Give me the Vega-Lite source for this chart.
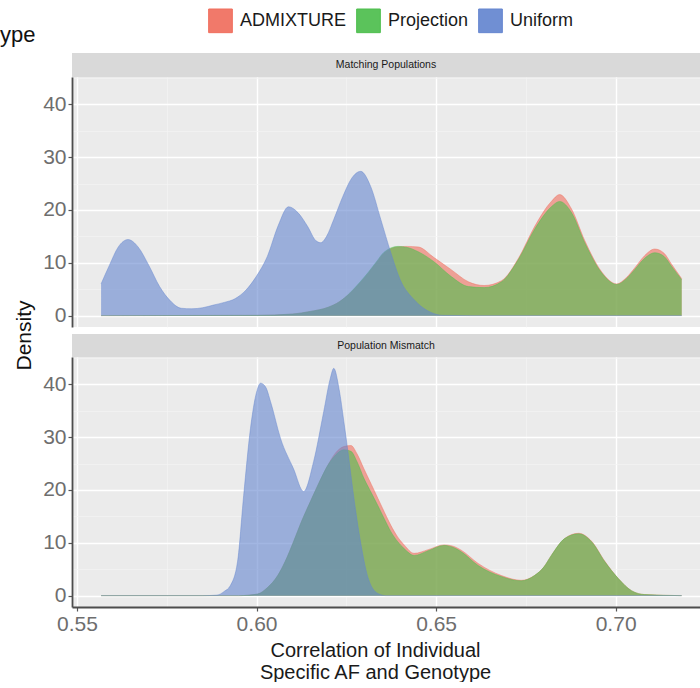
{
  "$schema": "https://vega.github.io/schema/vega-lite/v6.json",
  "padding": {"left": 0, "top": 8, "right": 0, "bottom": 0},
  "config": {
    "font": "Liberation Sans",
    "view": {"stroke": null}
  },
  "datasets": {
    "dens": [
      {"p":"Matching Populations","m":"ADMIXTURE","x":0.5567,"y":0},
      {"p":"Matching Populations","m":"ADMIXTURE","x":0.6,"y":0.05},
      {"p":"Matching Populations","m":"ADMIXTURE","x":0.61,"y":0.3},
      {"p":"Matching Populations","m":"ADMIXTURE","x":0.615,"y":0.8},
      {"p":"Matching Populations","m":"ADMIXTURE","x":0.62,"y":1.6},
      {"p":"Matching Populations","m":"ADMIXTURE","x":0.623,"y":2.6},
      {"p":"Matching Populations","m":"ADMIXTURE","x":0.626,"y":4.2},
      {"p":"Matching Populations","m":"ADMIXTURE","x":0.629,"y":6.3},
      {"p":"Matching Populations","m":"ADMIXTURE","x":0.631,"y":7.9},
      {"p":"Matching Populations","m":"ADMIXTURE","x":0.6335,"y":10.1},
      {"p":"Matching Populations","m":"ADMIXTURE","x":0.6355,"y":11.8},
      {"p":"Matching Populations","m":"ADMIXTURE","x":0.6394,"y":13.0},
      {"p":"Matching Populations","m":"ADMIXTURE","x":0.642,"y":13.1},
      {"p":"Matching Populations","m":"ADMIXTURE","x":0.645,"y":13.0},
      {"p":"Matching Populations","m":"ADMIXTURE","x":0.6494,"y":11.0},
      {"p":"Matching Populations","m":"ADMIXTURE","x":0.6542,"y":8.7},
      {"p":"Matching Populations","m":"ADMIXTURE","x":0.659,"y":6.4},
      {"p":"Matching Populations","m":"ADMIXTURE","x":0.6634,"y":5.7},
      {"p":"Matching Populations","m":"ADMIXTURE","x":0.6682,"y":6.6},
      {"p":"Matching Populations","m":"ADMIXTURE","x":0.6729,"y":10.8},
      {"p":"Matching Populations","m":"ADMIXTURE","x":0.6774,"y":16.8},
      {"p":"Matching Populations","m":"ADMIXTURE","x":0.6821,"y":21.6},
      {"p":"Matching Populations","m":"ADMIXTURE","x":0.6844,"y":22.9},
      {"p":"Matching Populations","m":"ADMIXTURE","x":0.6877,"y":20.2},
      {"p":"Matching Populations","m":"ADMIXTURE","x":0.6914,"y":14.2},
      {"p":"Matching Populations","m":"ADMIXTURE","x":0.6961,"y":8.3},
      {"p":"Matching Populations","m":"ADMIXTURE","x":0.7003,"y":6.0},
      {"p":"Matching Populations","m":"ADMIXTURE","x":0.703,"y":7.2},
      {"p":"Matching Populations","m":"ADMIXTURE","x":0.7053,"y":9.0},
      {"p":"Matching Populations","m":"ADMIXTURE","x":0.708,"y":11.3},
      {"p":"Matching Populations","m":"ADMIXTURE","x":0.7109,"y":12.6},
      {"p":"Matching Populations","m":"ADMIXTURE","x":0.7135,"y":11.8},
      {"p":"Matching Populations","m":"ADMIXTURE","x":0.7156,"y":9.7},
      {"p":"Matching Populations","m":"ADMIXTURE","x":0.7184,"y":7.0},

      {"p":"Matching Populations","m":"Projection","x":0.5567,"y":0},
      {"p":"Matching Populations","m":"Projection","x":0.6,"y":0.05},
      {"p":"Matching Populations","m":"Projection","x":0.61,"y":0.3},
      {"p":"Matching Populations","m":"Projection","x":0.615,"y":0.8},
      {"p":"Matching Populations","m":"Projection","x":0.62,"y":1.6},
      {"p":"Matching Populations","m":"Projection","x":0.623,"y":2.6},
      {"p":"Matching Populations","m":"Projection","x":0.626,"y":4.3},
      {"p":"Matching Populations","m":"Projection","x":0.629,"y":6.5},
      {"p":"Matching Populations","m":"Projection","x":0.631,"y":8.1},
      {"p":"Matching Populations","m":"Projection","x":0.6335,"y":10.3},
      {"p":"Matching Populations","m":"Projection","x":0.6355,"y":12.0},
      {"p":"Matching Populations","m":"Projection","x":0.6394,"y":13.1},
      {"p":"Matching Populations","m":"Projection","x":0.642,"y":12.9},
      {"p":"Matching Populations","m":"Projection","x":0.645,"y":12.1},
      {"p":"Matching Populations","m":"Projection","x":0.6494,"y":10.2},
      {"p":"Matching Populations","m":"Projection","x":0.6542,"y":7.4},
      {"p":"Matching Populations","m":"Projection","x":0.659,"y":5.5},
      {"p":"Matching Populations","m":"Projection","x":0.6634,"y":5.3},
      {"p":"Matching Populations","m":"Projection","x":0.6682,"y":6.4},
      {"p":"Matching Populations","m":"Projection","x":0.6729,"y":10.6},
      {"p":"Matching Populations","m":"Projection","x":0.6774,"y":16.3},
      {"p":"Matching Populations","m":"Projection","x":0.6821,"y":20.6},
      {"p":"Matching Populations","m":"Projection","x":0.6844,"y":21.6},
      {"p":"Matching Populations","m":"Projection","x":0.6877,"y":19.5},
      {"p":"Matching Populations","m":"Projection","x":0.6914,"y":13.8},
      {"p":"Matching Populations","m":"Projection","x":0.6961,"y":8.1},
      {"p":"Matching Populations","m":"Projection","x":0.7003,"y":5.9},
      {"p":"Matching Populations","m":"Projection","x":0.703,"y":7.0},
      {"p":"Matching Populations","m":"Projection","x":0.7053,"y":8.7},
      {"p":"Matching Populations","m":"Projection","x":0.708,"y":10.8},
      {"p":"Matching Populations","m":"Projection","x":0.7109,"y":11.9},
      {"p":"Matching Populations","m":"Projection","x":0.7135,"y":11.2},
      {"p":"Matching Populations","m":"Projection","x":0.7156,"y":9.3},
      {"p":"Matching Populations","m":"Projection","x":0.7184,"y":6.8},

      {"p":"Matching Populations","m":"Uniform","x":0.5567,"y":6.0},
      {"p":"Matching Populations","m":"Uniform","x":0.559,"y":9.5},
      {"p":"Matching Populations","m":"Uniform","x":0.5615,"y":13.0},
      {"p":"Matching Populations","m":"Uniform","x":0.5642,"y":14.4},
      {"p":"Matching Populations","m":"Uniform","x":0.567,"y":13.0},
      {"p":"Matching Populations","m":"Uniform","x":0.57,"y":9.5},
      {"p":"Matching Populations","m":"Uniform","x":0.573,"y":5.5},
      {"p":"Matching Populations","m":"Uniform","x":0.576,"y":2.8},
      {"p":"Matching Populations","m":"Uniform","x":0.579,"y":1.4},
      {"p":"Matching Populations","m":"Uniform","x":0.582,"y":1.3},
      {"p":"Matching Populations","m":"Uniform","x":0.585,"y":1.5},
      {"p":"Matching Populations","m":"Uniform","x":0.588,"y":2.0},
      {"p":"Matching Populations","m":"Uniform","x":0.591,"y":2.5},
      {"p":"Matching Populations","m":"Uniform","x":0.594,"y":3.2},
      {"p":"Matching Populations","m":"Uniform","x":0.597,"y":4.8},
      {"p":"Matching Populations","m":"Uniform","x":0.6,"y":7.5},
      {"p":"Matching Populations","m":"Uniform","x":0.603,"y":11.2},
      {"p":"Matching Populations","m":"Uniform","x":0.606,"y":17.0},
      {"p":"Matching Populations","m":"Uniform","x":0.6089,"y":20.6},
      {"p":"Matching Populations","m":"Uniform","x":0.6115,"y":19.5},
      {"p":"Matching Populations","m":"Uniform","x":0.6142,"y":16.9},
      {"p":"Matching Populations","m":"Uniform","x":0.6165,"y":14.2},
      {"p":"Matching Populations","m":"Uniform","x":0.6179,"y":13.8},
      {"p":"Matching Populations","m":"Uniform","x":0.6195,"y":15.0},
      {"p":"Matching Populations","m":"Uniform","x":0.6215,"y":18.2},
      {"p":"Matching Populations","m":"Uniform","x":0.624,"y":22.5},
      {"p":"Matching Populations","m":"Uniform","x":0.6265,"y":26.0},
      {"p":"Matching Populations","m":"Uniform","x":0.629,"y":27.3},
      {"p":"Matching Populations","m":"Uniform","x":0.6318,"y":24.4},
      {"p":"Matching Populations","m":"Uniform","x":0.6346,"y":18.2},
      {"p":"Matching Populations","m":"Uniform","x":0.6374,"y":11.9},
      {"p":"Matching Populations","m":"Uniform","x":0.64,"y":6.8},
      {"p":"Matching Populations","m":"Uniform","x":0.6439,"y":3.0},
      {"p":"Matching Populations","m":"Uniform","x":0.6486,"y":0.6},
      {"p":"Matching Populations","m":"Uniform","x":0.652,"y":0.05},
      {"p":"Matching Populations","m":"Uniform","x":0.66,"y":0},
      {"p":"Matching Populations","m":"Uniform","x":0.7184,"y":0},

      {"p":"Population Mismatch","m":"ADMIXTURE","x":0.5567,"y":0},
      {"p":"Population Mismatch","m":"ADMIXTURE","x":0.595,"y":0},
      {"p":"Population Mismatch","m":"ADMIXTURE","x":0.6003,"y":0.3},
      {"p":"Population Mismatch","m":"ADMIXTURE","x":0.603,"y":1.5},
      {"p":"Population Mismatch","m":"ADMIXTURE","x":0.6059,"y":3.8},
      {"p":"Population Mismatch","m":"ADMIXTURE","x":0.608,"y":6.5},
      {"p":"Population Mismatch","m":"ADMIXTURE","x":0.6103,"y":10.2},
      {"p":"Population Mismatch","m":"ADMIXTURE","x":0.6125,"y":14.0},
      {"p":"Population Mismatch","m":"ADMIXTURE","x":0.615,"y":17.8},
      {"p":"Population Mismatch","m":"ADMIXTURE","x":0.6175,"y":21.5},
      {"p":"Population Mismatch","m":"ADMIXTURE","x":0.6198,"y":24.6},
      {"p":"Population Mismatch","m":"ADMIXTURE","x":0.622,"y":27.0},
      {"p":"Population Mismatch","m":"ADMIXTURE","x":0.6243,"y":28.2},
      {"p":"Population Mismatch","m":"ADMIXTURE","x":0.6263,"y":28.4},
      {"p":"Population Mismatch","m":"ADMIXTURE","x":0.628,"y":26.8},
      {"p":"Population Mismatch","m":"ADMIXTURE","x":0.6299,"y":24.0},
      {"p":"Population Mismatch","m":"ADMIXTURE","x":0.632,"y":21.0},
      {"p":"Population Mismatch","m":"ADMIXTURE","x":0.6338,"y":18.4},
      {"p":"Population Mismatch","m":"ADMIXTURE","x":0.6356,"y":15.8},
      {"p":"Population Mismatch","m":"ADMIXTURE","x":0.6374,"y":13.3},
      {"p":"Population Mismatch","m":"ADMIXTURE","x":0.6392,"y":11.2},
      {"p":"Population Mismatch","m":"ADMIXTURE","x":0.6411,"y":9.6},
      {"p":"Population Mismatch","m":"ADMIXTURE","x":0.6439,"y":8.0},
      {"p":"Population Mismatch","m":"ADMIXTURE","x":0.6478,"y":8.7},
      {"p":"Population Mismatch","m":"ADMIXTURE","x":0.6522,"y":9.6},
      {"p":"Population Mismatch","m":"ADMIXTURE","x":0.6545,"y":9.4},
      {"p":"Population Mismatch","m":"ADMIXTURE","x":0.657,"y":8.6},
      {"p":"Population Mismatch","m":"ADMIXTURE","x":0.6617,"y":6.1},
      {"p":"Population Mismatch","m":"ADMIXTURE","x":0.6682,"y":3.8},
      {"p":"Population Mismatch","m":"ADMIXTURE","x":0.6737,"y":2.9},
      {"p":"Population Mismatch","m":"ADMIXTURE","x":0.6774,"y":3.8},
      {"p":"Population Mismatch","m":"ADMIXTURE","x":0.68,"y":5.4},
      {"p":"Population Mismatch","m":"ADMIXTURE","x":0.6821,"y":7.6},
      {"p":"Population Mismatch","m":"ADMIXTURE","x":0.6858,"y":10.8},
      {"p":"Population Mismatch","m":"ADMIXTURE","x":0.6897,"y":11.8},
      {"p":"Population Mismatch","m":"ADMIXTURE","x":0.6933,"y":10.3},
      {"p":"Population Mismatch","m":"ADMIXTURE","x":0.697,"y":6.5},
      {"p":"Population Mismatch","m":"ADMIXTURE","x":0.7008,"y":3.2},
      {"p":"Population Mismatch","m":"ADMIXTURE","x":0.7045,"y":0.9},
      {"p":"Population Mismatch","m":"ADMIXTURE","x":0.7081,"y":0.2},
      {"p":"Population Mismatch","m":"ADMIXTURE","x":0.7184,"y":0},

      {"p":"Population Mismatch","m":"Projection","x":0.5567,"y":0},
      {"p":"Population Mismatch","m":"Projection","x":0.595,"y":0},
      {"p":"Population Mismatch","m":"Projection","x":0.6003,"y":0.3},
      {"p":"Population Mismatch","m":"Projection","x":0.603,"y":1.5},
      {"p":"Population Mismatch","m":"Projection","x":0.6059,"y":3.8},
      {"p":"Population Mismatch","m":"Projection","x":0.608,"y":6.5},
      {"p":"Population Mismatch","m":"Projection","x":0.6103,"y":10.2},
      {"p":"Population Mismatch","m":"Projection","x":0.6125,"y":14.0},
      {"p":"Population Mismatch","m":"Projection","x":0.615,"y":17.8},
      {"p":"Population Mismatch","m":"Projection","x":0.6175,"y":21.5},
      {"p":"Population Mismatch","m":"Projection","x":0.6198,"y":24.6},
      {"p":"Population Mismatch","m":"Projection","x":0.622,"y":26.6},
      {"p":"Population Mismatch","m":"Projection","x":0.6243,"y":27.6},
      {"p":"Population Mismatch","m":"Projection","x":0.6263,"y":27.3},
      {"p":"Population Mismatch","m":"Projection","x":0.628,"y":25.3},
      {"p":"Population Mismatch","m":"Projection","x":0.6299,"y":22.2},
      {"p":"Population Mismatch","m":"Projection","x":0.632,"y":19.4},
      {"p":"Population Mismatch","m":"Projection","x":0.6338,"y":17.0},
      {"p":"Population Mismatch","m":"Projection","x":0.6356,"y":14.5},
      {"p":"Population Mismatch","m":"Projection","x":0.6374,"y":12.1},
      {"p":"Population Mismatch","m":"Projection","x":0.6392,"y":10.3},
      {"p":"Population Mismatch","m":"Projection","x":0.6411,"y":8.9},
      {"p":"Population Mismatch","m":"Projection","x":0.6439,"y":7.6},
      {"p":"Population Mismatch","m":"Projection","x":0.6478,"y":8.5},
      {"p":"Population Mismatch","m":"Projection","x":0.6522,"y":9.5},
      {"p":"Population Mismatch","m":"Projection","x":0.6545,"y":9.2},
      {"p":"Population Mismatch","m":"Projection","x":0.657,"y":8.3},
      {"p":"Population Mismatch","m":"Projection","x":0.6617,"y":5.7},
      {"p":"Population Mismatch","m":"Projection","x":0.6682,"y":3.6},
      {"p":"Population Mismatch","m":"Projection","x":0.6737,"y":2.8},
      {"p":"Population Mismatch","m":"Projection","x":0.6774,"y":3.8},
      {"p":"Population Mismatch","m":"Projection","x":0.68,"y":5.4},
      {"p":"Population Mismatch","m":"Projection","x":0.6821,"y":7.6},
      {"p":"Population Mismatch","m":"Projection","x":0.6858,"y":10.8},
      {"p":"Population Mismatch","m":"Projection","x":0.6897,"y":11.7},
      {"p":"Population Mismatch","m":"Projection","x":0.6933,"y":10.2},
      {"p":"Population Mismatch","m":"Projection","x":0.697,"y":6.4},
      {"p":"Population Mismatch","m":"Projection","x":0.7008,"y":3.2},
      {"p":"Population Mismatch","m":"Projection","x":0.7045,"y":0.9},
      {"p":"Population Mismatch","m":"Projection","x":0.7081,"y":0.2},
      {"p":"Population Mismatch","m":"Projection","x":0.7184,"y":0},

      {"p":"Population Mismatch","m":"Uniform","x":0.5567,"y":0},
      {"p":"Population Mismatch","m":"Uniform","x":0.585,"y":0},
      {"p":"Population Mismatch","m":"Uniform","x":0.589,"y":0.1},
      {"p":"Population Mismatch","m":"Uniform","x":0.591,"y":0.8},
      {"p":"Population Mismatch","m":"Uniform","x":0.5927,"y":1.9},
      {"p":"Population Mismatch","m":"Uniform","x":0.5947,"y":6.4},
      {"p":"Population Mismatch","m":"Uniform","x":0.5964,"y":18.9},
      {"p":"Population Mismatch","m":"Uniform","x":0.5983,"y":31.6},
      {"p":"Population Mismatch","m":"Uniform","x":0.6,"y":38.5},
      {"p":"Population Mismatch","m":"Uniform","x":0.6011,"y":40.2},
      {"p":"Population Mismatch","m":"Uniform","x":0.6025,"y":39.5},
      {"p":"Population Mismatch","m":"Uniform","x":0.6039,"y":36.7},
      {"p":"Population Mismatch","m":"Uniform","x":0.6067,"y":29.7},
      {"p":"Population Mismatch","m":"Uniform","x":0.6103,"y":24.0},
      {"p":"Population Mismatch","m":"Uniform","x":0.6131,"y":19.7},
      {"p":"Population Mismatch","m":"Uniform","x":0.6159,"y":25.4},
      {"p":"Population Mismatch","m":"Uniform","x":0.6187,"y":34.8},
      {"p":"Population Mismatch","m":"Uniform","x":0.6205,"y":41.0},
      {"p":"Population Mismatch","m":"Uniform","x":0.6215,"y":43.0},
      {"p":"Population Mismatch","m":"Uniform","x":0.623,"y":39.0},
      {"p":"Population Mismatch","m":"Uniform","x":0.6243,"y":33.0},
      {"p":"Population Mismatch","m":"Uniform","x":0.6255,"y":27.0},
      {"p":"Population Mismatch","m":"Uniform","x":0.627,"y":19.0},
      {"p":"Population Mismatch","m":"Uniform","x":0.629,"y":10.0},
      {"p":"Population Mismatch","m":"Uniform","x":0.631,"y":3.5},
      {"p":"Population Mismatch","m":"Uniform","x":0.6338,"y":0.4},
      {"p":"Population Mismatch","m":"Uniform","x":0.636,"y":0},
      {"p":"Population Mismatch","m":"Uniform","x":0.7184,"y":0}
    ]
  },
  "bounds": "flush",
  "spacing": 0,
  "vconcat": [
    {
      "width": 628, "height": 24,
      "view": {"fill": "#D9D9D9", "stroke": null},
      "data": {"values": [{"label": "Matching Populations"}]},
      "mark": {"type": "text", "fontSize": 10.5, "color": "#1A1A1A", "font": "Liberation Sans Narrow, Liberation Sans"},
      "encoding": {"text": {"field": "label"}}
    },
    {
      "width": 628, "height": 250,
      "view": {"fill": "#EBEBEB", "stroke": null},
      "data": {"name": "dens"},
      "transform": [{"filter": "datum.p === 'Matching Populations'"}],
      "encoding": {
        "x": {"field": "x", "type": "quantitative", "scale": {"domain": [0.5486, 0.7235], "nice": false, "zero": false},
          "axis": {"values": [0.55, 0.575, 0.6, 0.625, 0.65, 0.675, 0.7], "labels": false, "domain": false, "ticks": false, "title": null,
            "gridColor": {"condition": {"test": "round(datum.value*1000) % 50 == 0", "value": "#FFFFFF"}, "value": "#F4F4F4"},
            "gridWidth": {"condition": {"test": "round(datum.value*1000) % 50 == 0", "value": 1.4}, "value": 0.7}}},
        "y": {"field": "y", "type": "quantitative", "stack": null, "scale": {"domain": [-2.15, 45.15], "nice": false, "zero": false},
          "axis": {"values": [0, 5, 10, 15, 20, 25, 30, 35, 40, 45], "title": null,
            "labelExpr": "round(datum.value) % 10 == 0 ? datum.label : ''",
            "labelFontSize": 21, "labelColor": "#6E6E6E", "labelPadding": 2,
            "tickColor": {"condition": {"test": "round(datum.value) % 10 == 0", "value": "#555555"}, "value": "transparent"},
            "tickSize": 4, "tickWidth": 1.2,
            "domainColor": "#4D4D4D", "domainWidth": 1.8,
            "gridColor": {"condition": {"test": "round(datum.value) % 10 == 0", "value": "#FFFFFF"}, "value": "#F4F4F4"},
            "gridWidth": {"condition": {"test": "round(datum.value) % 10 == 0", "value": 1.4}, "value": 0.7}}},
        "y2": {"datum": 0},
        "fillOpacity": {"value": 0.6},
        "color": {"field": "m", "type": "nominal",
          "scale": {"domain": ["ADMIXTURE", "Projection", "Uniform"], "range": ["#F06E5D", "#4DBE4D", "#6485CF"]},
          "legend": {"title": "ype", "titleOrient": "left", "titleAnchor": "end", "titleBaseline": "middle",
            "titleFontSize": 22, "titleFontWeight": "normal", "titleColor": "#111111", "titlePadding": 172,
            "orient": "none", "direction": "horizontal", "legendX": -72, "legendY": -45,
            "symbolType": "square", "symbolSize": 560, "symbolStrokeColor": "#6A6A6A", "symbolStrokeWidth": 1,
            "symbolOpacity": 1,
            "labelFontSize": 18, "labelColor": "#1A1A1A", "labelOffset": 7, "columnPadding": 7,
            "encode": {"symbols": {"update": {"fillOpacity": {"value": 0.92}}}}}}
      },
      "layer": [
        {"transform": [{"filter": "datum.m === 'ADMIXTURE'"}], "mark": {"type": "area", "interpolate": "monotone", "opacity": 1, "line": {"strokeWidth": 1, "opacity": 0.45}}},
        {"transform": [{"filter": "datum.m === 'Projection'"}], "mark": {"type": "area", "interpolate": "monotone", "opacity": 1, "line": {"strokeWidth": 1, "opacity": 0.45}}},
        {"transform": [{"filter": "datum.m === 'Uniform'"}], "mark": {"type": "area", "interpolate": "monotone", "opacity": 1, "line": {"strokeWidth": 1, "opacity": 0.45}}}
      ]
    },
    {
      "width": 628, "height": 7,
      "data": {"values": [{"label": ""}]},
      "mark": {"type": "text"},
      "encoding": {"text": {"field": "label"}}
    },
    {
      "width": 628, "height": 23,
      "view": {"fill": "#D9D9D9", "stroke": null},
      "data": {"values": [{"label": "Population Mismatch"}]},
      "mark": {"type": "text", "fontSize": 10.5, "color": "#1A1A1A", "font": "Liberation Sans Narrow, Liberation Sans"},
      "encoding": {"text": {"field": "label"}}
    },
    {
      "width": 628, "height": 250,
      "view": {"fill": "#EBEBEB", "stroke": null},
      "data": {"name": "dens"},
      "transform": [{"filter": "datum.p === 'Population Mismatch'"}],
      "encoding": {
        "x": {"field": "x", "type": "quantitative", "scale": {"domain": [0.5486, 0.7235], "nice": false, "zero": false},
          "axis": {"values": [0.55, 0.575, 0.6, 0.625, 0.65, 0.675, 0.7],
            "title": ["Correlation of Individual", "Specific AF and Genotype"],
            "titleFontSize": 20, "titleFontWeight": "normal", "titleColor": "#1A1A1A", "titleLineHeight": 22, "titlePadding": 6, "titleX": 303,
            "labelExpr": "round(datum.value*1000) % 50 == 0 ? format(datum.value, '.2f') : ''",
            "labelFontSize": 21, "labelColor": "#6E6E6E", "labelPadding": 2,
            "tickColor": {"condition": {"test": "round(datum.value*1000) % 50 == 0", "value": "#555555"}, "value": "transparent"},
            "tickSize": 4, "tickWidth": 1.2,
            "domainColor": "#4D4D4D", "domainWidth": 1.8,
            "gridColor": {"condition": {"test": "round(datum.value*1000) % 50 == 0", "value": "#FFFFFF"}, "value": "#F4F4F4"},
            "gridWidth": {"condition": {"test": "round(datum.value*1000) % 50 == 0", "value": 1.4}, "value": 0.7}}},
        "y": {"field": "y", "type": "quantitative", "stack": null, "scale": {"domain": [-2.15, 45.15], "nice": false, "zero": false},
          "axis": {"values": [0, 5, 10, 15, 20, 25, 30, 35, 40, 45], "title": "Density",
            "titleFontSize": 21, "titleFontWeight": "normal", "titleColor": "#111111", "titlePadding": 8, "titleY": -22,
            "labelExpr": "round(datum.value) % 10 == 0 ? datum.label : ''",
            "labelFontSize": 21, "labelColor": "#6E6E6E", "labelPadding": 2,
            "tickColor": {"condition": {"test": "round(datum.value) % 10 == 0", "value": "#555555"}, "value": "transparent"},
            "tickSize": 4, "tickWidth": 1.2,
            "domainColor": "#4D4D4D", "domainWidth": 1.8,
            "gridColor": {"condition": {"test": "round(datum.value) % 10 == 0", "value": "#FFFFFF"}, "value": "#F4F4F4"},
            "gridWidth": {"condition": {"test": "round(datum.value) % 10 == 0", "value": 1.4}, "value": 0.7}}},
        "y2": {"datum": 0},
        "fillOpacity": {"value": 0.6},
        "color": {"field": "m", "type": "nominal",
          "scale": {"domain": ["ADMIXTURE", "Projection", "Uniform"], "range": ["#F06E5D", "#4DBE4D", "#6485CF"]}}
      },
      "layer": [
        {"transform": [{"filter": "datum.m === 'ADMIXTURE'"}], "mark": {"type": "area", "interpolate": "monotone", "opacity": 1, "line": {"strokeWidth": 1, "opacity": 0.45}}},
        {"transform": [{"filter": "datum.m === 'Projection'"}], "mark": {"type": "area", "interpolate": "monotone", "opacity": 1, "line": {"strokeWidth": 1, "opacity": 0.45}}},
        {"transform": [{"filter": "datum.m === 'Uniform'"}], "mark": {"type": "area", "interpolate": "monotone", "opacity": 1, "line": {"strokeWidth": 1, "opacity": 0.45}}}
      ]
    }
  ]
}
